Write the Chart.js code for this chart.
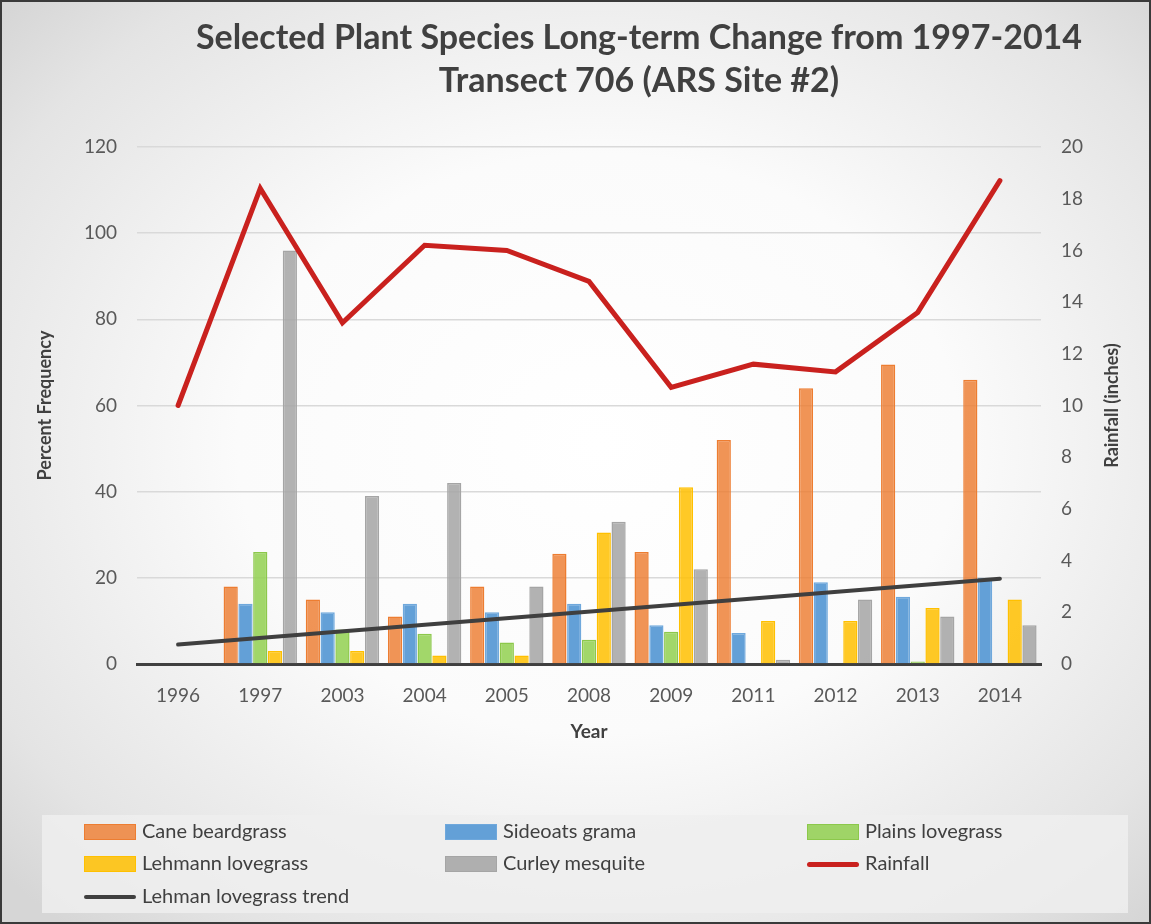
<!DOCTYPE html>
<html>
<head>
<meta charset="utf-8">
<script src="https://cdn.jsdelivr.net/npm/chart.js@4"></script>
<style>
  html, body { margin: 0; padding: 0; }
  body { width: 1151px; height: 924px; overflow: hidden; }
  #wrap {
    position: relative; width: 1151px; height: 924px; box-sizing: border-box;
    border: 2px solid #3a3a3a;
    background: radial-gradient(ellipse 70% 70% at 52% 48%, #ffffff 0%, #fbfbfb 45%, #e4e4e4 85%, #d6d6d6 100%);
  }
  #chart { position: absolute; left: -2px; top: -2px; }
  #title {
    position: absolute; left: 137px; top: 12px; width: 1000px; text-align: center;
    font-family: Lato, "Open Sans", sans-serif; font-weight: bold; font-size: 34px;
    line-height: 43px; color: #404040;
  }
  #legend {
    position: absolute; left: 40px; top: 813px; width: 1086px; height: 98px;
    background: rgba(238,238,238,0.85);
    font-family: Lato, "Open Sans", sans-serif; font-size: 20px; color: #404040;
  }
  .item { position: absolute; height: 24px; line-height: 24px; white-space: nowrap; }
  .sw { position: absolute; left: 0; width: 52px; box-sizing: border-box; }
  .item span.t { position: absolute; left: 58px; top: -2px; }
</style>
</head>
<body>
<div id="wrap">
  <canvas id="chart" width="1151" height="924"></canvas>
  <div id="title">Selected Plant Species Long-term Change from 1997-2014<br>Transect 706 (ARS Site #2)</div>
  <div id="legend"></div>
</div>
<script>
// data
const years = ['1996', '1997', '2003', '2004', '2005', '2008', '2009', '2011', '2012', '2013', '2014'];
const caneBeardgrass = [0, 18, 15, 11, 18, 25.6, 26, 52, 64, 69.5, 66];
const sideoatsGrama = [0, 14, 12, 14, 12, 14, 9, 7.2, 19, 15.6, 20];
const plainsLovegrass = [0, 26, 8, 7, 5, 5.6, 7.5, 0, 0, 0.6, 0];
const lehmannLovegrass = [0, 3, 3, 2, 2, 30.5, 41, 10, 10, 13, 15];
const curleyMesquite = [0, 96, 39, 42, 18, 33, 22, 1, 15, 11, 9];
const rainfall = [10, 18.4, 13.2, 16.2, 16, 14.8, 10.7, 11.6, 11.3, 13.6, 18.7];
// trend line endpoints only (first and last year)
const lehmanTrend = [4.5, null, null, null, null, null, null, null, null, null, 19.8];

const leftTicks = [0, 20, 40, 60, 80, 100, 120];
const rightTicks = [0, 2, 4, 6, 8, 10, 12, 14, 16, 18, 20];

const FONT = 'Lato, "Open Sans", sans-serif';
const TEXT = '#404040';
const TICK = '#595959';

function barSet(label, data, fill, border) {
  return {
    type: 'bar', label: label, data: data, yAxisID: 'y',
    backgroundColor: fill, borderColor: border, borderWidth: 1.5,
    categoryPercentage: 0.9, barPercentage: 0.96, order: 3
  };
}

const datasets = [
  barSet('Cane beardgrass', caneBeardgrass, 'rgba(237,125,49,0.82)', '#ED7D31'),
  barSet('Sideoats grama', sideoatsGrama, 'rgba(91,155,213,0.95)', '#6FA8DC'),
  barSet('Plains lovegrass', plainsLovegrass, 'rgba(146,208,80,0.85)', '#8CC84B'),
  barSet('Lehmann lovegrass', lehmannLovegrass, 'rgba(255,192,0,0.85)', '#FFC000'),
  barSet('Curley mesquite', curleyMesquite, 'rgba(165,165,165,0.85)', '#A5A5A5'),
  {
    type: 'line', label: 'Rainfall', data: rainfall, yAxisID: 'y2',
    borderColor: '#C9211E', borderWidth: 5, pointRadius: 0, tension: 0,
    borderCapStyle: 'round', borderJoinStyle: 'miter', order: 1
  },
  {
    type: 'line', label: 'Lehman lovegrass trend', data: lehmanTrend, yAxisID: 'y',
    borderColor: '#3F3F3F', borderWidth: 4, pointRadius: 0, spanGaps: true,
    borderCapStyle: 'round', order: 2
  }
];

// secondary axis title reads bottom-to-top like the reference
const rightTitle = {
  id: 'rightTitle',
  afterDraw(chart) {
    const ctx = chart.ctx;
    ctx.save();
    ctx.translate(1112, (chart.chartArea.top + chart.chartArea.bottom) / 2);
    ctx.rotate(-Math.PI / 2);
    ctx.font = 'bold 18px ' + FONT;
    ctx.fillStyle = TEXT;
    ctx.textAlign = 'center';
    ctx.textBaseline = 'middle';
    ctx.fillText('Rainfall (inches)', 0, 0);
    ctx.restore();
  }
};

new Chart(document.getElementById('chart').getContext('2d'), {
  data: { labels: years, datasets: datasets },
  plugins: [rightTitle],
  options: {
    responsive: false,
    animation: false,
    layout: { padding: { left: 30, right: 24, top: 147, bottom: 177 } },
    plugins: {
      legend: { display: false },
      tooltip: { enabled: false },
      title: { display: false }
    },
    scales: {
      x: {
        grid: { display: false },
        border: { color: '#404040', width: 3 },
        ticks: { color: TICK, font: { family: FONT, size: 19 }, padding: 12 },
        title: { display: true, text: 'Year', color: TEXT, font: { family: FONT, size: 19, weight: 'bold' } },
        afterFit(s) { s.height = 83; }
      },
      y: {
        position: 'left', min: 0, max: 120,
        afterBuildTicks(s) { s.ticks = leftTicks.map(v => ({ value: v })); },
        grid: { color: '#D9D9D9', lineWidth: 1.5, drawTicks: false },
        border: { display: false },
        ticks: { color: TICK, font: { family: FONT, size: 19 }, padding: 20 },
        title: { display: true, text: 'Percent Frequency', color: TEXT, font: { family: FONT, size: 18, weight: 'bold' } },
        afterFit(s) { s.width = 107; }
      },
      y2: {
        position: 'right', min: 0, max: 20,
        afterBuildTicks(s) { s.ticks = rightTicks.map(v => ({ value: v })); },
        grid: { display: false, drawTicks: false },
        border: { display: false },
        ticks: { color: TICK, font: { family: FONT, size: 19 }, padding: 20 },
        afterFit(s) { s.width = 86; }
      }
    }
  }
});

// legend in three columns like the reference
const legendItems = [
  ['Cane beardgrass', 'box', 'rgba(237,125,49,0.82)', '#ED7D31'],
  ['Sideoats grama', 'box', 'rgba(91,155,213,0.95)', '#6FA8DC'],
  ['Plains lovegrass', 'box', 'rgba(146,208,80,0.85)', '#8CC84B'],
  ['Lehmann lovegrass', 'box', 'rgba(255,192,0,0.85)', '#FFC000'],
  ['Curley mesquite', 'box', 'rgba(165,165,165,0.85)', '#A5A5A5'],
  ['Rainfall', 'line5', '#C9211E'],
  ['Lehman lovegrass trend', 'line4', '#3F3F3F']
];
const colX = [42, 403, 765];
const rowY = [5, 37, 70];
const leg = document.getElementById('legend');
legendItems.forEach((it, i) => {
  const d = document.createElement('div');
  d.className = 'item';
  d.style.left = colX[i % 3] + 'px';
  d.style.top = rowY[Math.floor(i / 3)] + 'px';
  const sw = document.createElement('div');
  sw.className = 'sw';
  if (it[1] === 'box') {
    sw.style.top = '4px'; sw.style.height = '16px';
    sw.style.background = it[2]; sw.style.border = '1.5px solid ' + it[3];
  } else {
    const h = it[1] === 'line5' ? 5 : 4;
    sw.style.top = (12 - h / 2) + 'px'; sw.style.height = h + 'px';
    sw.style.background = it[2]; sw.style.borderRadius = '3px';
  }
  const t = document.createElement('span');
  t.className = 't';
  t.textContent = it[0];
  d.appendChild(sw);
  d.appendChild(t);
  leg.appendChild(d);
});
</script>
</body>
</html>
